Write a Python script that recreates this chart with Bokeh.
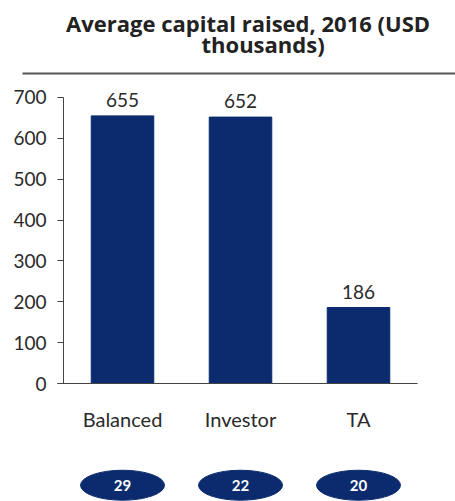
from bokeh.plotting import figure
from bokeh.models import LinearAxis, FixedTicker, Range1d, ColumnDataSource
from bokeh.core.properties import value
from bokeh.embed import file_html
from bokeh.resources import INLINE

# ---- data ----
categories = ["Balanced", "Investor", "TA"]
avg_capital = [655, 652, 186]
counts = [29, 22, 20]
y_ticks = [0, 100, 200, 300, 400, 500, 600, 700]
title_lines = ["Average capital raised, 2016 (USD", "thousands)"]

NAVY = "#0b2b6e"
TEXT = "#2a2a2a"
AXIS = "#444444"
FONT = "Lato"

# ---- layout (data units) ----
TITLE_X = [1.564, 1.691]
TITLE_Y = [882, 830]
RULE_Y = 758.7
RULE_X = (-0.3475, 3.322)
CAT_Y = -86
ELL_Y = -249

xs = [i + 0.5 for i in range(len(categories))]
src = ColumnDataSource(dict(
    x=xs, cat=categories, val=avg_capital, lab=[str(v) for v in avg_capital],
    cnt=[str(c) for c in counts],
    cat_y=[CAT_Y] * len(categories), ell_y=[ELL_Y] * len(categories),
))
tsrc = ColumnDataSource(dict(x=TITLE_X, y=TITLE_Y, t=title_lines))

p = figure(width=455, height=501,
           x_range=Range1d(-0.534, 3.322), y_range=Range1d(-288.8, 937.4),
           output_backend="svg", toolbar_location=None,
           x_axis_type=None, y_axis_type=None,
           min_border_left=0, min_border_right=0, min_border_bottom=0, min_border_top=0)
p.outline_line_color = None
p.background_fill_color = "white"
p.border_fill_color = "white"

# y axis drawn at x = 0
yaxis = LinearAxis(fixed_location=0, bounds=(0, 700), ticker=FixedTicker(ticks=y_ticks),
                   major_tick_out=6, major_tick_in=0, minor_tick_line_color=None,
                   axis_line_color=AXIS, major_tick_line_color=AXIS,
                   major_label_text_font=FONT, major_label_text_font_size="19px",
                   major_label_text_color=TEXT, major_label_standoff=11)
p.add_layout(yaxis, "left")

# x baseline at y = 0
xaxis = LinearAxis(fixed_location=0, bounds=(-0.05, 3.0), ticker=FixedTicker(ticks=[]),
                   minor_tick_line_color=None, major_tick_line_color=None,
                   axis_line_color=AXIS)
p.add_layout(xaxis, "below")

# rule under the title
p.segment(x0=[RULE_X[0]], y0=[RULE_Y], x1=[RULE_X[1]], y1=[RULE_Y],
          line_color="#555555", line_width=2)

p.text(x="x", y="y", text="t", source=tsrc, text_align="center", text_baseline="middle",
       text_font=value("Open Sans"), text_font_size="22px", text_font_style="bold",
       text_color="#222222")

p.vbar(x="x", top="val", width=0.53, color=NAVY, source=src)
p.text(x="x", y="val", text="lab", source=src, text_align="center", text_baseline="bottom",
       y_offset=-9, text_font=value(FONT), text_font_size="19px", text_color=TEXT)
p.text(x="x", y="cat_y", text="cat", source=src, text_align="center", text_baseline="middle",
       text_font=value(FONT), text_font_size="20px", text_color=TEXT)
p.ellipse(x="x", y="ell_y", width=84, height=30, width_units="screen", height_units="screen",
          color=NAVY, source=src)
p.text(x="x", y="ell_y", text="cnt", source=src, text_align="center", text_baseline="middle",
       text_font=value(FONT), text_font_size="15px", text_font_style="bold", text_color="white")

open("out.html", "w").write(file_html(p, INLINE))
